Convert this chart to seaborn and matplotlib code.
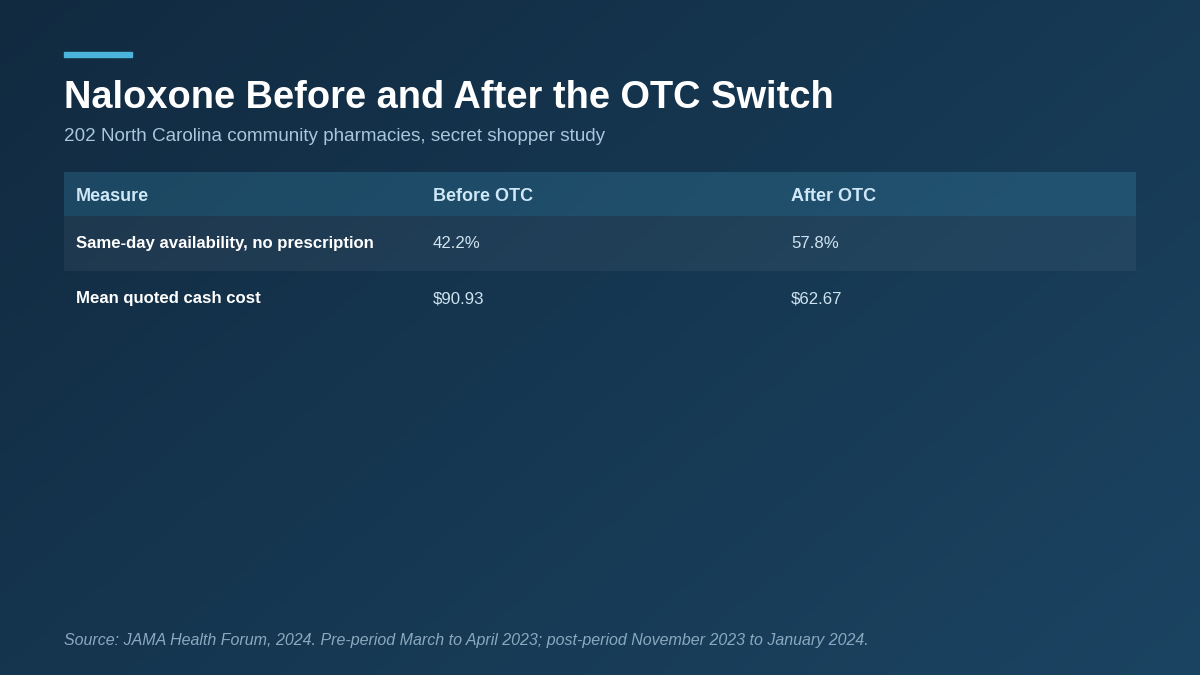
import numpy as np
import pandas as pd
import seaborn as sns
import matplotlib.pyplot as plt
from matplotlib.colors import LinearSegmentedColormap, ListedColormap

# Data
title = "Naloxone Before and After the OTC Switch"
subtitle = "202 North Carolina community pharmacies, secret shopper study"
source = ("Source: JAMA Health Forum, 2024. Pre-period March to April 2023; "
          "post-period November 2023 to January 2024.")
columns = ["Measure", "Before OTC", "After OTC"]
measures = ["Same-day availability, no prescription", "Mean quoted cash cost"]
before_otc = ["42.2%", "$90.93"]
after_otc = ["57.8%", "$62.67"]

table = pd.DataFrame({columns[0]: measures, columns[1]: before_otc, columns[2]: after_otc})

# Style
sns.set_theme(style="white")
plt.rcParams["font.family"] = ["Liberation Sans", "DejaVu Sans"]

W, H = 1200, 675
fig = plt.figure(figsize=(12, 6.75), dpi=100)


def box(x0, y0, x1, y1):
    # pixel box (top-left origin) -> figure fraction rect
    return [x0 / W, 1 - y1 / H, (x1 - x0) / W, (y1 - y0) / H]


# Gradient background
bg = fig.add_axes([0, 0, 1, 1])
gx, gy = np.meshgrid(np.linspace(0, 1, 300), np.linspace(0, 1, 170))
grad = (gx * 0.6 + gy * 0.4)
bg_cmap = LinearSegmentedColormap.from_list("bg", ["#112a40", "#1b4462"])
bg.imshow(grad, cmap=bg_cmap, aspect="auto", extent=[0, 1, 0, 1], origin="upper")
bg.set_axis_off()

# Accent bar
fig.patches.append(plt.Rectangle((64 / W, 1 - 57 / H), 68 / W, 5 / H,
                                 transform=fig.transFigure, color="#4ab4dc"))

fig.text(64 / W, 1 - 98 / H, title, color="white", fontsize=27.4,
         fontweight="bold", va="center", ha="left")
fig.text(64 / W, 1 - 136.5 / H, subtitle, color="#a9c6da", fontsize=13.6,
         va="center", ha="left")

col_x = [0.0112, 0.344, 0.678]
left, right = 64, 1136

# Header row
hax = fig.add_axes(box(left, 172, right, 216))
sns.heatmap(np.zeros((1, 1)), ax=hax, cmap=ListedColormap(["#4ab4dc"]),
            cbar=False, alpha=0.2, xticklabels=False, yticklabels=False)
hax.set_facecolor("none")
for cx, name in zip(col_x, table.columns):
    hax.text(cx, 0.55, name, color="#cfe8f8", fontsize=13, fontweight="bold",
             va="center", ha="left")
hax.set_xlim(0, 1)

# Body rows (banded first row)
bax = fig.add_axes(box(left, 216, right, 326))
band = np.array([[0.0], [np.nan]])
sns.heatmap(band, ax=bax, cmap=ListedColormap(["#ffffff"]), cbar=False,
            alpha=0.05, xticklabels=False, yticklabels=False)
bax.set_facecolor("none")
for i, row in table.iterrows():
    bax.text(col_x[0], i + 0.5, row[columns[0]], color="white", fontsize=12.1,
             fontweight="bold", va="center", ha="left")
    bax.text(col_x[1], i + 0.5, row[columns[1]], color="#cfe3f0", fontsize=12.1,
             va="center", ha="left")
    bax.text(col_x[2], i + 0.5, row[columns[2]], color="#cfe3f0", fontsize=12.1,
             va="center", ha="left")
bax.set_xlim(0, 1)

fig.text(64 / W, 1 - 641 / H, source, color="#8aa9bf", fontsize=11.5,
         style="italic", va="center", ha="left")

fig.savefig("out.png", dpi=100)
